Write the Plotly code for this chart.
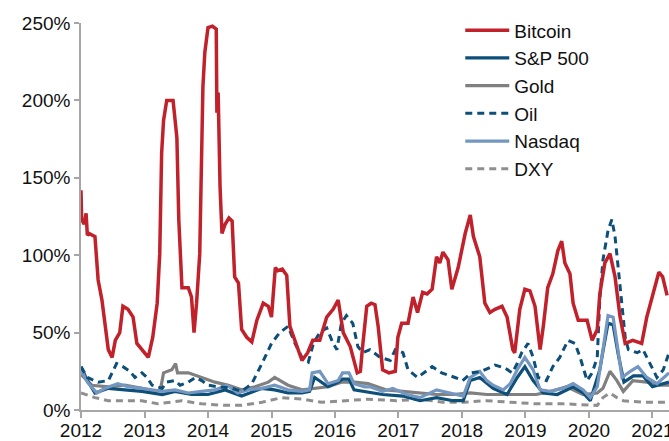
import plotly.graph_objects as go

# ---- data (decimal years, annualised volatility in %) ----
btc_t = [2012.0, 2012.01, 2012.05, 2012.08, 2012.1, 2012.13, 2012.22, 2012.27, 2012.33, 2012.38,
         2012.43, 2012.49, 2012.54, 2012.61, 2012.66, 2012.74, 2012.82, 2012.88, 2012.96, 2013.06,
         2013.13, 2013.2, 2013.24, 2013.27, 2013.3, 2013.35, 2013.45, 2013.51, 2013.54, 2013.59,
         2013.69, 2013.74, 2013.78, 2013.82, 2013.87, 2013.9, 2013.92, 2013.95, 2014.0, 2014.07,
         2014.13, 2014.14, 2014.16, 2014.19, 2014.22, 2014.27, 2014.33, 2014.38, 2014.42, 2014.48,
         2014.53, 2014.61, 2014.69, 2014.77, 2014.87, 2014.95, 2015.0, 2015.06, 2015.1, 2015.17,
         2015.24, 2015.29, 2015.4, 2015.48, 2015.57, 2015.65, 2015.76, 2015.87, 2015.97, 2016.05,
         2016.13, 2016.24, 2016.35, 2016.4, 2016.43, 2016.5, 2016.57, 2016.63, 2016.68, 2016.75,
         2016.85, 2016.95, 2016.99, 2017.05, 2017.15, 2017.23, 2017.3, 2017.38, 2017.45, 2017.53,
         2017.6, 2017.65, 2017.7, 2017.78, 2017.84, 2017.94, 2018.05, 2018.13, 2018.18, 2018.28,
         2018.36, 2018.44, 2018.52, 2018.63, 2018.71, 2018.8, 2018.83, 2018.91, 2018.99, 2019.07,
         2019.15, 2019.23, 2019.28, 2019.35, 2019.43, 2019.51, 2019.57, 2019.62, 2019.7, 2019.75,
         2019.83, 2019.97, 2020.05, 2020.13, 2020.17, 2020.25, 2020.33, 2020.41, 2020.49, 2020.57,
         2020.69, 2020.83, 2020.91, 2021.0, 2021.1, 2021.16, 2021.23]
btc_v = [142, 123, 120, 127, 113, 114, 112, 84, 71, 54,
         39, 34, 45, 50, 67, 65, 60, 43, 39, 34,
         47, 69, 101, 166, 187, 200, 200, 176, 123, 79,
         79, 73, 50, 69, 101, 160, 209, 231, 247, 248,
         246, 192, 205, 144, 114, 120, 124, 122, 86, 82,
         52, 47, 44, 58, 69, 67, 60, 92, 90, 91,
         87, 54, 41, 32, 37, 45, 45, 60, 65, 71,
         50, 41, 24, 25, 39, 67, 69, 68, 54, 26,
         24, 25, 47, 56, 56, 73, 63, 76, 75, 78,
         99, 95, 102, 97, 78, 92, 114, 126, 112, 99,
         69, 63, 65, 67, 60, 39, 37, 65, 78, 77,
         67, 39, 54, 79, 88, 103, 109, 95, 88, 69,
         58, 58, 45, 52, 75, 95, 101, 86, 60, 43,
         45, 43, 60, 73, 89, 86, 74]

sp_t = [2012.0, 2012.1, 2012.22, 2012.43, 2012.69, 2012.96, 2013.28, 2013.48, 2013.74, 2014.0,
        2014.27, 2014.53, 2014.85, 2015.05, 2015.26, 2015.48, 2015.6, 2015.68, 2015.89, 2016.05,
        2016.12, 2016.22, 2016.3, 2016.47, 2016.75, 2017.07, 2017.34, 2017.6, 2017.86, 2018.02,
        2018.13, 2018.28, 2018.49, 2018.71, 2018.87, 2018.99, 2019.12, 2019.28, 2019.5, 2019.75,
        2019.91, 2020.02, 2020.17, 2020.22, 2020.3, 2020.38, 2020.46, 2020.55, 2020.7, 2020.85,
        2021.0, 2021.26]
sp_v = [28, 19, 11, 14, 13, 12, 10, 12, 10, 10,
        13, 9, 14, 13, 11, 11, 12, 21, 15, 18,
        20, 20, 13, 12, 10, 9, 6, 8, 6, 6,
        19, 21, 14, 10, 21, 28, 19, 11, 10, 15,
        11, 6, 26, 38, 56, 55, 36, 18, 22, 22,
        15, 18]

gold_t = [2012.0, 2012.17, 2012.43, 2012.69, 2012.96, 2013.17, 2013.25, 2013.3, 2013.43, 2013.49,
          2013.52, 2013.69, 2013.9, 2014.11, 2014.32, 2014.53, 2014.74, 2014.95, 2015.05, 2015.26,
          2015.48, 2015.68, 2015.89, 2016.1, 2016.31, 2016.52, 2016.8, 2017.07, 2017.34, 2017.6,
          2017.86, 2018.13, 2018.39, 2018.65, 2018.91, 2019.17, 2019.39, 2019.65, 2019.91, 2020.13,
          2020.22, 2020.33, 2020.44, 2020.54, 2020.69, 2020.91, 2021.12, 2021.26]
gold_v = [23, 16, 15, 16, 14, 12, 13, 24, 26, 30,
          24, 24, 21, 18, 16, 13, 15, 18, 21, 16,
          13, 14, 15, 18, 18, 17, 13, 12, 11, 10,
          10, 11, 10, 10, 10, 10, 12, 15, 10, 11,
          14, 25, 19, 12, 19, 18, 16, 16]

oil_t = [2012.0, 2012.1, 2012.27, 2012.43, 2012.49, 2012.56, 2012.66, 2012.77, 2012.85, 2012.96,
         2013.04, 2013.12, 2013.28, 2013.35, 2013.48, 2013.56, 2013.69, 2013.8, 2013.9, 2014.0,
         2014.16, 2014.38, 2014.53, 2014.69, 2014.85, 2015.0, 2015.13, 2015.26, 2015.37, 2015.48,
         2015.58, 2015.66, 2015.76, 2015.87, 2015.97, 2016.03, 2016.1, 2016.18, 2016.28, 2016.36,
         2016.44, 2016.55, 2016.71, 2016.87, 2016.95, 2017.07, 2017.15, 2017.3, 2017.53, 2017.68,
         2017.89, 2018.01, 2018.15, 2018.31, 2018.52, 2018.68, 2018.79, 2018.87, 2018.94, 2019.04,
         2019.12, 2019.2, 2019.33, 2019.43, 2019.54, 2019.67, 2019.78, 2019.86, 2019.97, 2020.05,
         2020.13, 2020.17, 2020.22, 2020.3, 2020.36, 2020.41, 2020.46, 2020.52, 2020.57, 2020.62,
         2020.76, 2020.85, 2020.96, 2021.07, 2021.17, 2021.26]
oil_v = [28, 21, 18, 19, 24, 30, 28, 25, 21, 24,
         21, 16, 14, 18, 19, 16, 18, 21, 19, 16,
         15, 14, 12, 17, 30, 43, 50, 54, 43, 34,
         31, 43, 50, 53, 43, 39, 56, 61, 56, 41,
         37, 39, 34, 32, 39, 37, 26, 21, 28, 24,
         21, 19, 24, 25, 29, 27, 24, 30, 37, 43,
         34, 21, 19, 28, 34, 45, 43, 34, 19, 24,
         34, 71, 97, 116, 123, 112, 92, 67, 47, 39,
         37, 39, 30, 21, 26, 37]

nas_t = [2012.0, 2012.1, 2012.25, 2012.38, 2012.58, 2012.74, 2012.96, 2013.12, 2013.28, 2013.48,
         2013.69, 2013.9, 2014.11, 2014.3, 2014.47, 2014.63, 2014.85, 2015.05, 2015.26, 2015.48,
         2015.6, 2015.64, 2015.76, 2015.89, 2016.05, 2016.12, 2016.22, 2016.3, 2016.47, 2016.55,
         2016.75, 2016.91, 2017.13, 2017.34, 2017.6, 2017.81, 2018.02, 2018.13, 2018.28, 2018.39,
         2018.49, 2018.65, 2018.76, 2018.87, 2018.99, 2019.12, 2019.23, 2019.39, 2019.59, 2019.75,
         2019.91, 2020.02, 2020.13, 2020.22, 2020.3, 2020.38, 2020.46, 2020.52, 2020.65, 2020.77,
         2020.91, 2021.07, 2021.26]
nas_v = [26, 18, 11, 14, 17, 15, 14, 13, 12, 13,
         11, 12, 13, 16, 11, 13, 14, 16, 13, 12,
         13, 24, 25, 17, 19, 24, 24, 17, 15, 15,
         12, 14, 10, 8, 13, 11, 9, 21, 25, 19,
         16, 13, 17, 26, 34, 26, 13, 12, 14, 17,
         13, 8, 15, 39, 61, 60, 39, 21, 25, 28,
         21, 17, 24]

dxy_t = [2012.0, 2012.22, 2012.43, 2012.69, 2012.96, 2013.21, 2013.59, 2013.9, 2014.27, 2014.53,
         2014.85, 2015.16, 2015.48, 2015.79, 2016.1, 2016.52, 2016.97, 2017.34, 2017.7, 2018.02,
         2018.39, 2018.76, 2019.17, 2019.59, 2019.97, 2020.13, 2020.22, 2020.33, 2020.44, 2020.54,
         2020.85, 2021.26]
dxy_v = [11, 8, 6, 6, 6, 4, 6, 4, 3, 3,
         5, 8, 7, 5, 6, 7, 6, 7, 5, 5,
         6, 5, 4, 4, 3, 3, 8, 11, 8, 6,
         5, 5]

year_ticks = [2012, 2013, 2014, 2015, 2016, 2017, 2018, 2019, 2020, 2021]
y_ticks = [0, 50, 100, 150, 200, 250]

for a, b in [(btc_t, btc_v), (sp_t, sp_v), (gold_t, gold_v), (oil_t, oil_v), (nas_t, nas_v), (dxy_t, dxy_v)]:
    assert len(a) == len(b), (len(a), len(b))

RED = "#C0212B"
NAVY = "#0D4F78"
GREY = "#808080"
LIGHT = "#7397C0"
DGREY = "#8F8F8F"

fig = go.Figure()
# drawing order (bottom to top); legendrank controls legend order
fig.add_trace(go.Scatter(x=dxy_t, y=dxy_v, name="DXY", mode="lines", legendrank=6,
                         line=dict(color=DGREY, width=3, dash="7px,5px")))
fig.add_trace(go.Scatter(x=gold_t, y=gold_v, name="Gold", mode="lines", legendrank=3,
                         line=dict(color=GREY, width=3.2)))
fig.add_trace(go.Scatter(x=sp_t, y=sp_v, name="S&P 500", mode="lines", legendrank=2,
                         line=dict(color=NAVY, width=3.2)))
fig.add_trace(go.Scatter(x=nas_t, y=nas_v, name="Nasdaq", mode="lines", legendrank=5,
                         line=dict(color=LIGHT, width=3.2)))
fig.add_trace(go.Scatter(x=oil_t, y=oil_v, name="Oil", mode="lines", legendrank=4,
                         line=dict(color=NAVY, width=3, dash="7px,5px")))
fig.add_trace(go.Scatter(x=btc_t, y=btc_v, name="Bitcoin", mode="lines", legendrank=1,
                         line=dict(color=RED, width=3.5)))

FONT = "Liberation Sans, Arial, sans-serif"
fig.update_layout(
    width=669, height=441,
    margin=dict(l=81, r=0, t=23, b=31),
    paper_bgcolor="white", plot_bgcolor="white",
    font=dict(family=FONT, size=19, color="#111111"),
    showlegend=True,
    legend=dict(x=0.645, y=1.03, xanchor="left", yanchor="top",
                bgcolor="rgba(0,0,0,0)", font=dict(size=19, family=FONT),
                tracegroupgap=0, itemwidth=44),
    xaxis=dict(range=[2012, 2021.26], tickvals=year_ticks, ticktext=[str(y) for y in year_ticks],
               showgrid=False, zeroline=False, showline=True, linecolor="#A6A6A6", linewidth=1.5,
               ticks="outside", ticklen=6, tickcolor="#A6A6A6", tickwidth=1.5, automargin=False,
               ticklabelstandoff=-4, ticklabeloverflow="allow",
               tickfont=dict(size=19, family=FONT, color="#111111")),
    yaxis=dict(range=[0, 250], tickvals=y_ticks, ticktext=[f"{v}%" for v in y_ticks],
               showgrid=False, zeroline=False, showline=True, linecolor="#A6A6A6", linewidth=1.5,
               ticks="outside", ticklen=5, tickcolor="#A6A6A6", tickwidth=1.5, automargin=False,
               tickfont=dict(size=19, family=FONT, color="#111111")),
)

# remove the default page margin so the 669x441 figure fills the window exactly
fig.write_html("out.html",
               config={"displayModeBar": False},
               post_script="document.body.style.margin='0';document.body.style.overflow='hidden';")
